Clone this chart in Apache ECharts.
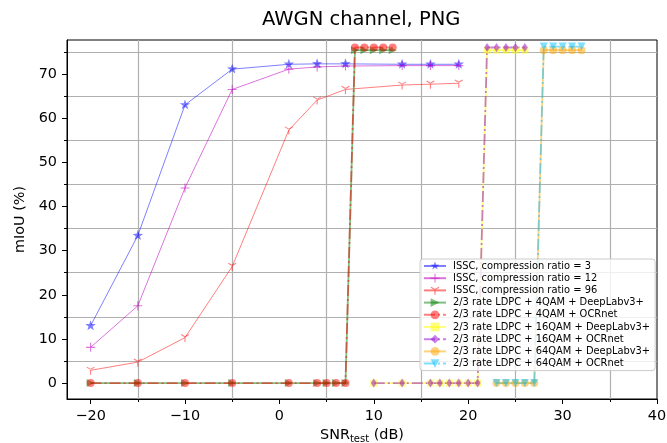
<!DOCTYPE html>
<html><head><meta charset="utf-8">
<script src="https://cdn.jsdelivr.net/npm/echarts@6/dist/echarts.min.js"></script>
<style>html,body{margin:0;padding:0;background:#fff}#c{width:667px;height:443px}</style>
</head><body><div id="c"></div>
<script>
// ---- data ----
const xMajorTicks = [-20, -10, 0, 10, 20, 30, 40];
const xMinorTicks = [-15, -5, 5, 15, 25, 35];
const yMajorTicks = [0, 10, 20, 30, 40, 50, 60, 70];
const yMinorTicks = [5, 15, 25, 35, 45, 55, 65, 75];

const seriesNames = [
  'ISSC, compression ratio = 3',
  'ISSC, compression ratio = 12',
  'ISSC, compression ratio = 96',
  '2/3 rate LDPC + 4QAM + DeepLabv3+',
  '2/3 rate LDPC + 4QAM + OCRnet',
  '2/3 rate LDPC + 16QAM + DeepLabv3+',
  '2/3 rate LDPC + 16QAM + OCRnet',
  '2/3 rate LDPC + 64QAM + DeepLabv3+',
  '2/3 rate LDPC + 64QAM + OCRnet'
];

const snrIssc = [-20, -15, -10, -5, 1, 4, 7, 13, 16, 19];
const isscRatio3 = [13.0, 33.4, 63.0, 71.1, 72.2, 72.3, 72.3, 72.2, 72.2, 72.2];
const isscRatio12 = [8.1, 17.5, 44.2, 66.5, 71.1, 71.6, 71.8, 71.9, 71.9, 71.9];
const isscRatio96 = [2.9, 4.75, 10.3, 26.4, 57.3, 64.1, 66.5, 67.5, 67.7, 67.9];

const snr4qam = [-20, -15, -10, -5, 1, 4, 5, 6, 7, 8, 9, 10, 11, 12];
const ldpc4qamDeepLab = [0, 0, 0, 0, 0, 0, 0, 0, 0, 75.4, 75.4, 75.4, 75.4, 75.4];
const ldpc4qamOcr = [0, 0, 0, 0, 0, 0, 0, 0, 0, 76.0, 76.0, 76.0, 76.0, 76.0];

const snr16qam = [10, 13, 16, 17, 18, 19, 20, 21, 22, 23, 24, 25, 26];
const ldpc16qamDeepLab = [0, 0, 0, 0, 0, 0, 0, 0, 75.4, 75.4, 75.4, 75.4, 75.4];
const ldpc16qamOcr = [0, 0, 0, 0, 0, 0, 0, 0, 76.0, 76.0, 76.0, 76.0, 76.0];

const snr64qam = [23, 24, 25, 26, 27, 28, 29, 30, 31, 32];
const ldpc64qamDeepLab = [0, 0, 0, 0, 0, 75.4, 75.4, 75.4, 75.4, 75.4];
const ldpc64qamOcr = [0, 0, 0, 0, 0, 76.2, 76.2, 76.2, 76.2, 76.2];

// ---- styling ----
const FONT = 'DejaVu Sans';
const STAR = 'path://M0,-10 L2.35,-3.24 L9.51,-3.09 L3.8,1.24 L5.88,8.09 L0,4 L-5.88,8.09 L-3.8,1.24 L-9.51,-3.09 L-2.35,-3.24 Z M0,10 L0.01,10 L0,10.01 Z';
const PLUS = 'path://M-1.2,-10 L1.2,-10 L1.2,-1.2 L10,-1.2 L10,1.2 L1.2,1.2 L1.2,10 L-1.2,10 L-1.2,1.2 L-10,1.2 L-10,-1.2 L-1.2,-1.2 Z';
const TRI_DOWN = 'path://M-1.2,0 L1.2,0 L1.2,10 L-1.2,10 Z M0.6,-1.04 L9.26,-6.04 L8.06,-8.12 L-0.6,-3.12 Z M-0.6,-1.04 L-9.26,-6.04 L-8.06,-8.12 L0.6,-3.12 Z M0,-10 L0.01,-10 L0,-9.99 Z';
const DASHDOT = [11, 3, 2, 3];

function pairs(xs, ys) { return xs.map((x, i) => [x, ys[i]]); }

function mkSeries(name, xs, ys, color, symbol, size, opts) {
  opts = opts || {};
  return {
    name: name, type: 'line', data: pairs(xs, ys),
    symbol: symbol, symbolSize: size, symbolKeepAspect: true,
    symbolRotate: opts.rotate || 0,
    showAllSymbol: true,
    lineStyle: { color: color, width: opts.width || 1, type: opts.dash || 'solid', opacity: opts.alpha || 0.5 },
    itemStyle: { color: color, opacity: opts.alpha || 0.5, borderWidth: 0 },
    emphasis: { disabled: true },
    animation: false
  };
}

const series = [
  mkSeries(seriesNames[0], snrIssc, isscRatio3, '#0000ff', STAR, 11, { width: 1 }),
  mkSeries(seriesNames[1], snrIssc, isscRatio12, '#bf00bf', PLUS, 9, { width: 1, alpha: 0.55 }),
  mkSeries(seriesNames[2], snrIssc, isscRatio96, '#ff0000', TRI_DOWN, 9, { width: 1 }),
  mkSeries(seriesNames[3], snr4qam, ldpc4qamDeepLab, '#008000', 'triangle', 8, { width: 1.8, rotate: -90 }),
  mkSeries(seriesNames[4], snr4qam, ldpc4qamOcr, '#ff0000', 'circle', 8, { width: 1.8, dash: DASHDOT }),
  mkSeries(seriesNames[5], snr16qam, ldpc16qamDeepLab, '#ffff00', 'rect', 7, { width: 1.8 }),
  mkSeries(seriesNames[6], snr16qam, ldpc16qamOcr, '#9400d3', 'diamond', [6, 9], { width: 1.8, dash: DASHDOT }),
  mkSeries(seriesNames[7], snr64qam, ldpc64qamDeepLab, '#ffa500', 'circle', 8, { width: 1.8 }),
  mkSeries(seriesNames[8], snr64qam, ldpc64qamOcr, '#00bfff', 'triangle', 8, { width: 1.8, dash: DASHDOT, rotate: 180 })
];

const X_MIN = -22.5, X_MAX = 40, Y_MIN = -3.6, Y_MAX = 77.7;
const labelStyle = { color: '#000', fontFamily: FONT, fontSize: 14.4 };

const option = {
  animation: false,
  backgroundColor: '#fff',
  title: {
    text: 'AWGN channel, PNG', left: 262, top: 10, padding: 0,
    textStyle: { fontFamily: FONT, fontSize: 19.5, fontWeight: 'normal', color: '#000' }
  },
  grid: { left: 67, right: 10, top: 40, bottom: 44, outerBoundsMode: 'none', containLabel: false,
          show: true, borderColor: '#000', borderWidth: 1, backgroundColor: 'transparent' },
  xAxis: [
    {
      type: 'value', min: X_MIN, max: X_MAX, position: 'bottom',
      axisLine: { show: true, onZero: false, lineStyle: { color: '#000', width: 1 } },
      axisTick: { show: true, length: 5, customValues: xMajorTicks, lineStyle: { color: '#000' } },
      axisLabel: { show: true, customValues: xMajorTicks, margin: 10, ...labelStyle,
        formatter: v => (v < 0 ? '\u2212' + Math.abs(v) : '' + v) },
      splitLine: { show: false },
      name: '{a|SNR}{b|test}{a| (dB)}', nameLocation: 'middle', nameGap: 28,
      nameTextStyle: { rich: { a: { fontFamily: FONT, fontSize: 14.4, color: '#000' },
                               b: { fontFamily: FONT, fontSize: 10, color: '#000', padding: [7, 0, 0, 0] } } }
    },
    {
      type: 'value', min: X_MIN, max: X_MAX, position: 'bottom',
      axisLine: { show: false, onZero: false },
      axisTick: { show: true, length: 3, customValues: xMinorTicks, lineStyle: { color: '#000' } },
      axisLabel: { show: false },
      splitLine: { show: true, lineStyle: { color: '#b0b0b0', width: 1.2 } }
    }
  ],
  yAxis: [
    {
      type: 'value', min: Y_MIN, max: Y_MAX, position: 'left',
      axisLine: { show: true, onZero: false, lineStyle: { color: '#000', width: 1 } },
      axisTick: { show: true, length: 5, customValues: yMajorTicks, lineStyle: { color: '#000' } },
      axisLabel: { show: true, customValues: yMajorTicks, margin: 10, ...labelStyle },
      splitLine: { show: false },
      name: 'mIoU (%)', nameLocation: 'middle', nameGap: 40, nameRotate: 90,
      nameTextStyle: { fontFamily: FONT, fontSize: 14.4, color: '#000' }
    },
    {
      type: 'value', min: Y_MIN, max: Y_MAX, position: 'left',
      axisLine: { show: false, onZero: false },
      axisTick: { show: true, length: 3, customValues: yMinorTicks, lineStyle: { color: '#000' } },
      axisLabel: { show: false },
      splitLine: { show: true, lineStyle: { color: '#b0b0b0', width: 1.2 } }
    }
  ],
  legend: {
    orient: 'vertical', left: 420, top: 259,
    data: seriesNames,
    itemWidth: 22, itemHeight: 11, itemGap: 2.2,
    padding: [2, 5, 2, 3],
    backgroundColor: 'rgba(255,255,255,0.8)', borderColor: '#cccccc', borderWidth: 1, borderRadius: 3,
    textStyle: { fontFamily: FONT, fontSize: 9.9, color: '#000', padding: [0, 0, 0, 2] },
    selectedMode: false
  },
  series: series
};

const chart = echarts.init(document.getElementById('c'), null, { renderer: 'canvas' });
chart.setOption(option);
</script>
</body></html>
